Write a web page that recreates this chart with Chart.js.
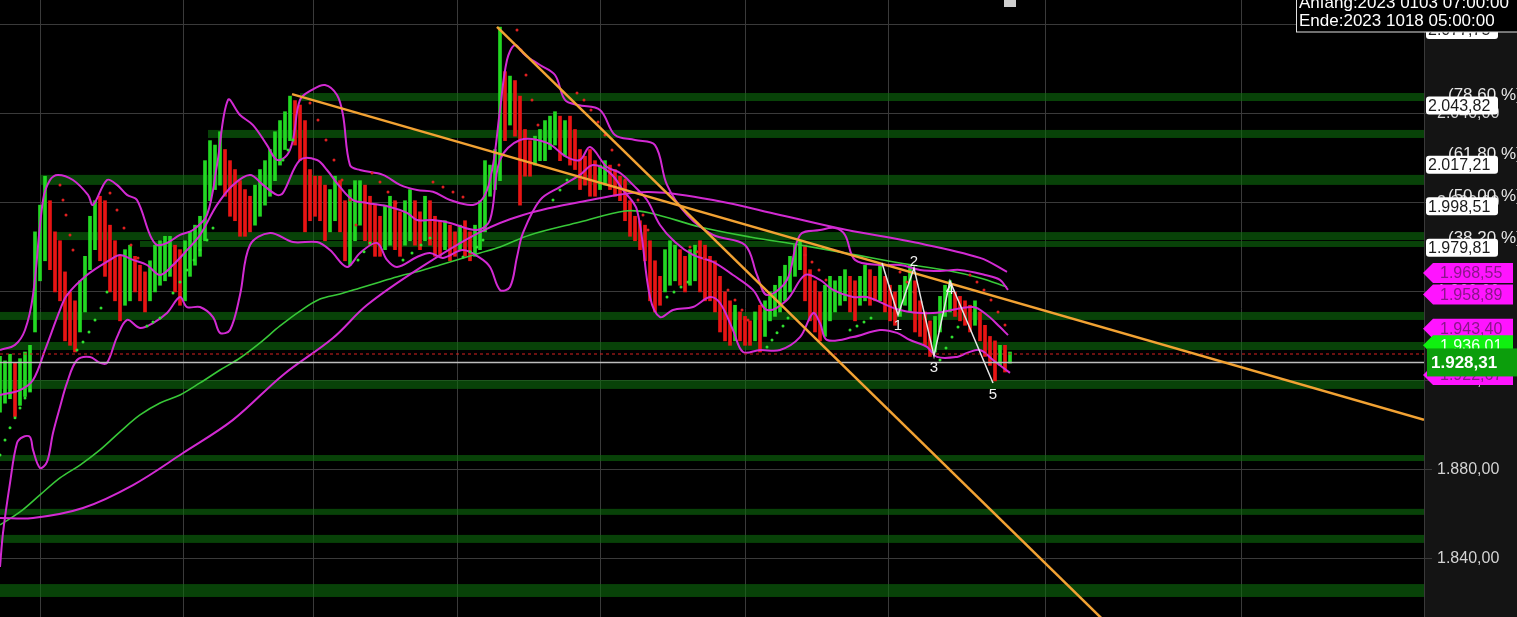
<!DOCTYPE html>
<html>
<head>
<meta charset="utf-8">
<script src="https://cdn.jsdelivr.net/npm/chart.js@4.4.0/dist/chart.umd.min.js"></script>
<style>
  html, body { margin: 0; padding: 0; background: #000; overflow: hidden; }
</style>
</head>
<body>
<canvas id="chart" width="1517" height="617"></canvas>
<script>
// price bars, one per slot (high / low)
const barHigh = [1931,1929,1932,1928,1930,1933,1936,1987,1999,2012,2001,1987,1983,1969,1960,1956,1965,1976,1994,2001,
  2003,2001,1990,1983,1976,1979,1981,1976,1972,1969,1974,1981,1983,1985,1985,1981,1979,1983,1987,1990,
  1994,2019,2028,2026,2032,2024,2019,2015,2010,2006,2003,2008,2015,2019,2024,2032,2037,2041,2048,2046,
  2044,2037,2015,2012,2012,2008,2006,2012,2010,2001,2006,2010,2010,2008,2003,1999,1994,1999,2003,2001,
  1996,2001,2006,2001,1996,2003,2001,1994,1992,1992,1990,1987,1990,1992,1987,1990,2001,2019,2017,2024,
  2079,2059,2057,2055,2048,2033,2028,2030,2033,2037,2039,2041,2039,2037,2039,2033,2024,2021,2024,2019,
  2017,2019,2017,2015,2012,2010,2001,1994,1992,1990,1983,1974,1967,1979,1983,1981,1979,1976,1979,1981,
  1983,1981,1976,1974,1967,1960,1956,1954,1951,1949,1947,1951,1954,1956,1960,1963,1967,1972,1976,1981,
  1983,1981,1970,1965,1960,1963,1967,1965,1967,1970,1967,1965,1967,1972,1970,1967,1972,1967,1963,1960,
  1963,1967,1972,1965,1956,1951,1947,1949,1958,1963,1965,1960,1958,1956,1954,1956,1951,1945,1940,1938,
  1936,1936,1933];
const barLow = [1906,1910,1912,1904,1909,1913,1915,1942,1965,1974,1970,1960,1956,1938,1936,1933,1942,1951,1970,1979,
  1974,1967,1960,1956,1947,1954,1956,1960,1956,1951,1956,1960,1963,1965,1967,1960,1954,1956,1967,1972,
  1976,1983,2001,2006,2008,2003,1994,1992,1985,1985,1987,1990,1994,1999,2003,2010,2017,2024,2028,2026,
  2019,1987,1992,1994,1992,1983,1987,1992,1987,1974,1972,1983,1990,1983,1981,1976,1976,1979,1981,1979,
  1976,1981,1983,1981,1979,1983,1981,1976,1976,1979,1974,1976,1979,1976,1974,1976,1979,1987,2003,2006,
  2010,2028,2035,2030,1999,2012,2012,2017,2019,2019,2024,2026,2019,2021,2017,2015,2006,2008,2003,2003,
  2006,2008,2006,2003,2001,1992,1985,1983,1979,1974,1956,1951,1954,1960,1963,1965,1963,1960,1963,1965,
  1960,1956,1956,1951,1942,1938,1936,1938,1938,1936,1936,1938,1933,1940,1947,1949,1951,1956,1960,1967,
  1970,1956,1947,1942,1938,1940,1947,1951,1954,1956,1951,1947,1954,1956,1954,1956,1956,1951,1947,1945,
  1949,1954,1951,1942,1940,1936,1931,1933,1942,1949,1951,1949,1947,1945,1942,1945,1938,1931,1927,1920,
  1927,1924,1928];

// moving averages and bands: [slot, price]
const maGreen = [[0,1855.3],[4,1861.1],[8,1868.8],[12,1876.4],[16,1882.2],[20,1889.0],[24,1897.1],[28,1904.7],
  [32,1910.1],[36,1913.7],[40,1919.1],[44,1924.9],[48,1930.3],[52,1937.1],[56,1944.7],[60,1951.4],[64,1956.8],
  [68,1959.1],[72,1961.8],[76,1964.5],[80,1967.2],[84,1969.4],[88,1972.1],[92,1974.8],[96,1977.5],[100,1980.2],
  [106,1985.6],[116,1991.4],[125,1996.4],[130,1995.5],[140,1989.2],[150,1984.7],[160,1981.1],[170,1977.1],
  [180,1973.0],[190,1969.4],[196,1966.3],[201.4,1962.2]];
const maMagenta = [[0,1858.4],[6.6,1858.4],[16.6,1862.9],[26.6,1873.2],[36.6,1887.6],[46.6,1902.5],[56.6,1922.7],
  [66.6,1939.3],[73.4,1954.1],[84,1970.8],[96,1986.9],[104.6,1994.6],[116,2000.4],[129.4,2004.9],[142.6,2001.3],
  [156,1994.6],[169.4,1987.8],[182.6,1982.4],[196,1975.3],[201.4,1969.0]];
const bandUpper = [[0,1933.9],[3,1936.2],[5,1942.9],[6.6,1958.6],[8.6,2001.3],[10,2010.3],[11.6,2012.6],[14.6,2010.3],
  [17.6,2003.6],[18.6,1999.1],[21.4,2010.3],[23.4,2008.1],[25.4,2003.6],[27.4,2001.3],[30,1985.6],[31.4,1981.1],
  [33.4,1982.0],[36,1985.6],[38.6,1987.8],[41.4,1994.6],[43.4,2017.0],[45.6,2046.3],[48,2039.5],[50.6,2035.0],
  [53.4,2026.0],[55.4,2019.3],[57.4,2021.5],[58.6,2028.3],[60,2046.3],[62.4,2050.8],[65,2053.0],[67.4,2048.5],
  [68.6,2039.5],[70,2017.0],[72,2014.8],[76.6,2012.6],[80,2008.1],[83.4,2005.8],[86.6,2005.0],[90,2001.3],
  [94.6,1999.1],[97,2003.6],[98.6,2017.0],[100,2041.8],[101.4,2064.2],[103,2071.0],[105,2066.5],[108,2062.0],
  [111,2057.5],[113,2046.3],[115.6,2044.0],[120,2041.8],[123,2030.5],[127,2028.3],[131,2026.0],[133.4,2008.1],
  [137.4,1994.6],[142.6,1985.6],[149,1981.1],[151.4,1967.6],[153.4,1958.6],[157.4,1965.4],[160,1985.6],
  [164,1987.8],[167,1988.7],[169,1985.6],[171,1974.4],[176,1972.1],[180,1972.1],[184,1969.9],[188,1969.4],
  [192,1969.9],[197,1967.6],[200,1965.4],[201.6,1960.9]];
const bandMiddle = [[0,1913.7],[4,1915.9],[6.6,1920.4],[9,1933.9],[12,1951.9],[13.4,1958.6],[17.4,1967.6],[22,1974.4],
  [24,1976.6],[26.6,1974.4],[29.4,1972.1],[32,1967.6],[34.6,1972.1],[37.4,1978.8],[40,1985.6],[43.4,1999.1],
  [46.6,2008.1],[50,2012.6],[52.6,2008.1],[55.4,2003.6],[56.6,2004.5],[60,2019.3],[63.4,2019.3],[65.4,2014.8],
  [68,2007.2],[70.6,2001.3],[73.4,2000.0],[78,1998.2],[81.4,1995.5],[83.4,1992.3],[86.6,1992.3],[90,1991.0],
  [95.4,1987.8],[98,1992.3],[100,2019.3],[104,2028.3],[109.4,2027.0],[113.4,2020.6],[116,2019.3],[118,2025.1],
  [121.4,2016.1],[124,2013.5],[126.6,2008.1],[129.4,2001.3],[132,1990.1],[135,1982.4],[138.6,1976.6],
  [142.6,1973.5],[146.6,1967.6],[150.6,1960.9],[153.4,1951.9],[157.4,1956.4],[161,1967.6],[164,1965.4],
  [166.6,1960.9],[170.6,1957.7],[173.4,1957.7],[180,1951.9],[186.6,1950.5],[194.6,1953.2],[197.4,1949.6],
  [200,1944.2],[201.6,1940.6]];
const bandLower = [[0,1836.4],[0.6,1851.7],[2,1874.1],[3.4,1892.1],[4.6,1894.8],[6,1894.8],[6.6,1889.0],[8,1880.9],
  [9.4,1883.6],[10.6,1896.6],[12,1908.3],[13.4,1919.1],[15.4,1929.4],[18,1930.8],[20,1928.1],[21.4,1928.1],
  [23.4,1939.7],[25.4,1947.4],[28,1943.8],[30.6,1946.0],[33.4,1950.5],[36,1957.7],[37.4,1953.2],[40,1953.2],
  [42.6,1948.7],[44,1941.6],[46,1942.9],[48,1958.6],[50,1981.1],[54,1986.5],[58.6,1982.4],[63.4,1982.4],
  [66,1978.8],[69.4,1971.2],[72,1977.5],[75.4,1982.0],[77.4,1974.4],[79.4,1971.2],[83.4,1975.7],[86,1977.5],
  [88.6,1975.3],[92.6,1978.8],[96,1975.3],[98,1971.2],[100,1960.9],[102,1962.2],[103.4,1975.7],[104.6,1986.5],
  [108,2001.3],[112,2007.2],[116,2012.6],[118.6,2017.0],[122,2013.5],[124.6,2005.8],[127.4,1996.8],[130,1957.7],
  [132,1948.7],[134.6,1951.9],[138.6,1953.2],[142,1957.7],[144,1955.0],[146.6,1942.9],[148.6,1933.0],
  [152,1933.9],[156,1933.9],[160,1939.7],[162.6,1950.5],[164,1946.0],[165.4,1938.4],[170.6,1939.7],
  [176,1942.9],[179.4,1941.6],[182,1938.4],[185.4,1935.3],[187.4,1930.8],[191.4,1930.8],[193.4,1932.6],
  [196,1933.9],[198.6,1929.4],[202,1923.6]];

// parabolic SAR dots
const sarRed = [[12,2008.1],[12.6,2001.3],[13.2,1994.6],[14,1985.6],[14.6,1978.8],
  [22,2004.5],[23.4,1996.8],[24.8,1988.7],[26.2,1981.1],[27.6,1975.3],
  [62,2044.9],[63.6,2037.3],[65.2,2028.3],[66.8,2019.3],[68.4,2010.3],[70,2001.3],[71.2,1990.1],
  [74.4,2013.5],[76,2009.4],[77.6,2004.9],[79.2,2000.0],
  [86.6,2009.4],[88.6,2007.2],[90.6,2004.9],[92.6,2002.7],
  [103.4,2077.7],[104.2,2068.7],[105.2,2057.5],[106.4,2046.3],[107.6,2035.0],
  [115.4,2049.4],[116.8,2046.3],[118.2,2041.8],[119.6,2036.4],[121,2030.5],[122.4,2023.8],[123.8,2017.0],[125,2010.3],
  [127.6,2001.3],[128.6,1994.6],[129.6,1987.8],
  [138,1980.2],[139.4,1978.0],[140.8,1975.3],
  [145.6,1960.9],[147,1956.4],[148.4,1951.9],[149.6,1947.4],
  [161,1976.6],[162.4,1973.5],[163.8,1969.9],[165.2,1965.4],
  [180,1969.0],[181.4,1964.5],[182.8,1960.0],[184.2,1955.5],
  [194,1967.6],[195.4,1964.5],[196.8,1960.9],[198.2,1956.4],[199.6,1951.0],[201,1945.1]];
const sarGreen = [[0,1886.7],[1,1893.5],[2,1898.9],[3,1903.4],[4,1907.8],[5,1912.3],[6,1915.9],
  [15.4,1933.9],[16.6,1937.5],[17.8,1942.0],[19,1947.4],[20.2,1952.8],[21.4,1960.0],
  [29.4,1944.7],[30.6,1946.5],[32,1948.3],
  [34.6,1959.5],[36,1964.5],[37.4,1969.9],[38.8,1974.4],[40,1978.8],[41.4,1983.3],[42.6,1988.7],
  [56.6,2019.3],[57.6,2023.8],[58.6,2028.3],
  [71.6,1974.4],[72.8,1978.0],[74,1982.0],
  [80.6,1974.4],[82.4,1977.5],[84.2,1981.1],[86,1984.2],
  [92.6,1975.7],[94,1978.0],[95.4,1980.2],[96.6,1983.3],
  [110.6,2001.3],[112,2005.8],[113.4,2010.3],
  [133.4,1957.7],[134.8,1960.0],[136.2,1962.2],[137.6,1964.5],
  [153.4,1935.3],[154.4,1938.4],[155.4,1941.6],[156.6,1944.7],[157.6,1948.3],
  [170,1942.9],[171.4,1944.7],[172.8,1946.5],[174.2,1948.3],
  [188,1929.4],[189.2,1934.8],[190.4,1939.7],[191.6,1944.2]];

// drawn objects
const trendA = [[58.4,2048.9],[284.8,1902.5]];
const trendB = [[99.4,2079.1],[222,1809.6]];
const waves = [[176.4,1973.0],[179.6,1949.6],[182.8,1970.8],[186.8,1931.2],[190,1964.9],[198.6,1919.1]];
const waveLabels = ['', '1', '2', '3', '4', '5'];

// support / resistance zones: [from slot, low, high]
const zones = [[60,2045.8,2049.4],[41.6,2029.2,2032.8],[8,2008.1,2012.6],[11,1983.3,1986.9],[28,1980.2,1982.9],
  [0,1947.4,1951.0],[0,1933.9,1937.5],[0,1916.4,1920.4],[0,1884.0,1886.7],[0,1859.8,1862.5],
  [0,1847.2,1850.8],[0,1822.9,1828.7]];

const fibPct = [100, 78.6, 61.8, 50, 38.2];
const fibVal = [2077.75, 2043.82, 2017.21, 1998.51, 1979.81];
const tagMagenta = [1968.55, 1958.89, 1943.40, 1922.67];
const tagGreen = 1936.01;
const lastPrice = 1928.31;
const redLevel = 1932.1;
const priceTicks = [1840, 1880, 1920, 1960, 2000, 2040, 2080];
const timeTicks = [8, 36.6, 62.6, 91.4, 120, 149, 177.6, 209.2, 248.2];
const rangeText = ['Anfang:2023 0103 07:00:00', 'Ende:2023 1018 05:00:00'];

const X_MAX = 284.8, Y_MIN = 1813.9, Y_MAX = 2091.2;
const FONT = "Arial, 'Liberation Sans', sans-serif";

function fmt(v) {
  const [i, d] = v.toFixed(2).split('.');
  return i.replace(/\B(?=(\d{3})+(?!\d))/g, '.') + ',' + d;
}
const pts = a => a.map(([x, y]) => ({x, y}));

const barColors = barHigh.map((h, i) => {
  const m = (h + barLow[i]) / 2;
  const p = i ? (barHigh[i - 1] + barLow[i - 1]) / 2 : m;
  return m >= p ? '#22d822' : '#e81414';
});

function line(data, color, width, order, extra) {
  return Object.assign({
    type: 'line', data: pts(data), borderColor: color, borderWidth: width,
    pointRadius: 0, pointHoverRadius: 0, pointHitRadius: 0,
    tension: 0.35, fill: false, order
  }, extra || {});
}

const overlay = {
  id: 'overlay',
  beforeDraw(chart) {
    const {ctx, chartArea: a, width, height} = chart;
    ctx.save();
    ctx.fillStyle = '#000';
    ctx.fillRect(0, 0, width, height);
    ctx.fillStyle = '#141414';
    ctx.fillRect(a.right, 0, width - a.right, height);
    ctx.restore();
  },
  beforeDatasetsDraw(chart) {
    const {ctx, chartArea: a, scales: {x, y}} = chart;
    ctx.save();
    ctx.fillStyle = 'rgba(14,110,14,0.6)';
    zones.forEach(([from, lo, hi]) => {
      const x0 = x.getPixelForValue(from);
      const y0 = y.getPixelForValue(hi), y1 = y.getPixelForValue(lo);
      ctx.fillRect(x0, y0, a.right - x0, y1 - y0);
    });
    ctx.restore();
  },
  afterDatasetsDraw(chart) {
    const {ctx, scales: {x, y}} = chart;
    const offs = [0, 11, -6, 12, 9, 12];
    ctx.save();
    ctx.fillStyle = '#f0f0f0';
    ctx.font = '15px ' + FONT;
    ctx.textAlign = 'center';
    ctx.textBaseline = 'middle';
    waves.forEach(([wx, wy], i) => {
      if (!waveLabels[i]) return;
      ctx.fillText(waveLabels[i], x.getPixelForValue(wx), y.getPixelForValue(wy) + offs[i]);
    });
    // marker above the last bar
    ctx.fillStyle = '#cfcfcf';
    ctx.fillRect(x.getPixelForValue(barHigh.length - 1) - 6, 0, 12, 7);
    ctx.restore();
  },
  afterDraw(chart) {
    const {ctx, chartArea: a, scales: {y}, width} = chart;
    ctx.save();
    ctx.textBaseline = 'middle';
    // fibonacci labels
    fibVal.forEach((v, i) => {
      const py = y.getPixelForValue(v);
      ctx.font = '17px ' + FONT;
      ctx.fillStyle = '#e8e8e8';
      ctx.textAlign = 'left';
      ctx.fillText('(' + fibPct[i].toFixed(2).replace('.', ',') + ' %)', a.right + 24, py - 10);
      ctx.fillStyle = '#ffffff';
      ctx.beginPath();
      ctx.roundRect(a.right + 2, py - 9, 72, 18, 3);
      ctx.fill();
      ctx.font = '16px ' + FONT;
      ctx.fillStyle = '#1a1a1a';
      ctx.fillText(fmt(v), a.right + 4, py + 1);
    });
    function tag(v, fill, textColor) {
      const py = y.getPixelForValue(v);
      const h = 20, l = a.right - 1, r = width - 4;
      ctx.fillStyle = fill;
      ctx.beginPath();
      ctx.moveTo(l, py);
      ctx.lineTo(l + 10, py - h / 2);
      ctx.lineTo(r, py - h / 2);
      ctx.lineTo(r, py + h / 2);
      ctx.lineTo(l + 10, py + h / 2);
      ctx.closePath();
      ctx.fill();
      ctx.fillStyle = textColor;
      ctx.font = '16px ' + FONT;
      ctx.textAlign = 'left';
      ctx.fillText(fmt(v), a.right + 16, py + 1);
    }
    tag(tagMagenta[0], '#ff14ff', '#8a168a');
    tag(tagMagenta[1], '#ff14ff', '#8a168a');
    tag(tagMagenta[2], '#ff14ff', '#8a168a');
    tag(tagGreen, '#10f010', '#f4fff4');
    tag(tagMagenta[3], '#ff14ff', '#8a168a');
    // last price box
    const py = y.getPixelForValue(lastPrice);
    ctx.fillStyle = '#0c9e0c';
    ctx.fillRect(a.right + 3, py - 14, width - a.right - 3, 28);
    ctx.fillStyle = '#ffffff';
    ctx.font = 'bold 17px ' + FONT;
    ctx.fillText(fmt(lastPrice), a.right + 7, py + 1);
    // time range box
    ctx.fillStyle = '#000';
    ctx.fillRect(1296, -4, width - 1296 + 2, 36);
    ctx.strokeStyle = '#e0e0e0';
    ctx.lineWidth = 1;
    ctx.strokeRect(1296.5, -4, width - 1296 + 2, 36);
    ctx.fillStyle = '#ffffff';
    ctx.font = '17px ' + FONT;
    ctx.fillText(rangeText[0], 1299, 3);
    ctx.fillText(rangeText[1], 1299, 21);
    ctx.restore();
  }
};

new Chart(document.getElementById('chart').getContext('2d'), {
  type: 'bar',
  data: {
    datasets: [
      line(waves, '#e6e6e6', 1.5, 0, {tension: 0}),
      line(trendA, '#f2a233', 2.5, 1, {tension: 0}),
      line(trendB, '#f2a233', 2.5, 1, {tension: 0}),
      line([[0, redLevel], [X_MAX, redLevel]], '#d82020', 1.2, 2, {tension: 0, borderDash: [3, 3]}),
      line([[0, lastPrice], [X_MAX, lastPrice]], '#bdbdbd', 1.5, 2, {tension: 0}),
      line(sarRed, 'transparent', 0, 3, {showLine: false, pointRadius: 1.5, pointBackgroundColor: '#e02020', pointBorderWidth: 0}),
      line(sarGreen, 'transparent', 0, 3, {showLine: false, pointRadius: 1.5, pointBackgroundColor: '#30e030', pointBorderWidth: 0}),
      line(bandUpper, '#d22ad2', 2, 4),
      line(bandMiddle, '#d22ad2', 2, 4),
      line(bandLower, '#d22ad2', 2, 4),
      line(maMagenta, '#d22ad2', 2, 4),
      line(maGreen, '#38c838', 1.6, 5),
      {
        type: 'bar',
        data: barHigh.map((h, i) => ({x: i, y: [barLow[i], h]})),
        backgroundColor: barColors,
        barThickness: 3,
        grouped: false,
        order: 6
      }
    ]
  },
  options: {
    responsive: false,
    animation: false,
    events: [],
    layout: {padding: 0, autoPadding: false},
    plugins: {legend: {display: false}, tooltip: {enabled: false}},
    scales: {
      x: {
        type: 'linear', min: 0, max: X_MAX, offset: false,
        afterBuildTicks: s => { s.ticks = timeTicks.map(v => ({value: v})); },
        afterFit: s => { s.height = 0; s.paddingLeft = 0; s.paddingRight = 0; },
        ticks: {display: false},
        grid: {color: '#3a3a3a', drawTicks: false, offset: false},
        border: {display: false}
      },
      y: {
        position: 'right', min: Y_MIN, max: Y_MAX,
        afterBuildTicks: s => { s.ticks = priceTicks.map(v => ({value: v})); },
        afterFit: s => { s.width = 93; s.paddingTop = 0; s.paddingBottom = 0; },
        ticks: {color: '#d4d4d4', font: {family: FONT, size: 16}, padding: 5, callback: v => fmt(v)},
        grid: {color: '#3a3a3a', tickLength: 8},
        border: {color: '#3a3a3a'}
      }
    }
  },
  plugins: [overlay]
});
</script>
</body>
</html>
